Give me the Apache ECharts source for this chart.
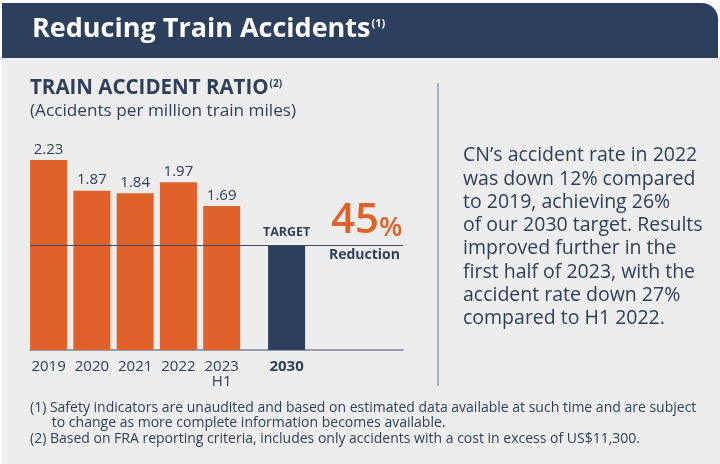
<!DOCTYPE html>
<html>
<head>
<meta charset="utf-8">
<script src="https://cdn.jsdelivr.net/npm/echarts@6/dist/echarts.min.js"></script>
<style>
  html, body { margin: 0; padding: 0; background: #fff; }
  #chart { width: 720px; height: 464px; }
</style>
</head>
<body>
<div id="chart"></div>
<script>
const years = ["2019", "2020", "2021", "2022", "2023\nH1"];
const ratios = [2.23, 1.87, 1.84, 1.97, 1.69];
const targetYear = "2030";
const targetValue = 1.23;
const reductionPct = 45;
const noteLines = [
  "CN’s accident rate in 2022",
  "was down 12% compared",
  "to 2019, achieving 26%",
  "of our 2030 target. Results",
  "improved further in the",
  "first half of 2023, with the",
  "accident rate down 27%",
  "compared to H1 2022."
];
const footnotes = [
  "(1) Safety indicators are unaudited and based on estimated data available at such time and are subject",
  "      to change as more complete information becomes available.",
  "(2) Based on FRA reporting criteria, includes only accidents with a cost in excess of US$11,300."
];

const navy = "#2c405d";
const textNavy = "#2e3f59";
const orange = "#e0622a";
const font = "Open Sans";

// target bar sits half a slot further out than the yearly bars
const targetPos = years.length + 0.5;
const labelPos = years.map((y, i) => i).concat([targetPos]);
const labelText = years.concat([targetYear]);

const chart = echarts.init(document.getElementById("chart"));

const option = {
  animation: false,
  textStyle: { fontFamily: font },
  grid: { left: 30, right: 317, top: 137, bottom: 114 },
  xAxis: {
    type: "value",
    min: -0.43,
    max: 8.19,
    splitLine: { show: false },
    axisTick: { show: false },
    axisLine: { show: true, onZero: false, lineStyle: { color: "#75839a", width: 1.5 } },
    axisLabel: {
      customValues: labelPos,
      margin: 9,
      color: textNavy,
      fontSize: 15,
      lineHeight: 15,
      fontFamily: font,
      formatter: function (v) {
        const i = labelPos.indexOf(v);
        if (i < 0) return "";
        return labelText[i] === targetYear ? "{b|" + targetYear + "}" : labelText[i];
      },
      rich: {
        b: { fontWeight: "bold", fontSize: 15, color: textNavy, fontFamily: font }
      }
    }
  },
  yAxis: {
    type: "value",
    min: 0,
    max: 2.5,
    show: false
  },
  series: [
    {
      type: "bar",
      barWidth: 37,
      barGap: "-100%",
      data: ratios.map((v, i) => [i, v]),
      itemStyle: { color: orange },
      label: {
        show: true,
        position: "top",
        distance: 3,
        color: textNavy,
        fontSize: 15,
        fontFamily: font,
        formatter: p => p.value[1].toFixed(2)
      },
      markLine: {
        silent: true,
        symbol: "none",
        label: { show: false },
        lineStyle: { color: "#3e4c62", width: 1.2, type: "solid" },
        data: [{ yAxis: targetValue }]
      }
    },
    {
      type: "bar",
      barWidth: 37,
      barGap: "-100%",
      data: [[targetPos, targetValue]],
      itemStyle: { color: navy },
      label: {
        show: true,
        position: "top",
        distance: 6,
        color: textNavy,
        fontSize: 12.5,
        fontWeight: "bold",
        fontFamily: font,
        formatter: "TARGET"
      }
    }
  ],
  graphic: [
    { type: "rect", z: -10, shape: { x: 2, y: 58, width: 718, height: 406 }, style: { fill: "#ecedec" } },
    { type: "rect", shape: { x: 2, y: 3, width: 716, height: 55, r: [0, 16, 0, 0] }, style: { fill: navy } },
    {
      type: "text", x: 32, y: 16,
      style: {
        text: "{t|Reducing Train Accidents}{s|(1)}",
        rich: {
          t: { fontSize: 27, fontWeight: "bold", fill: "#fff", fontFamily: font },
          s: { fontSize: 11, fontWeight: "bold", fill: "#fff", fontFamily: font, verticalAlign: "top", padding: [2, 0, 0, 1] }
        }
      }
    },
    {
      type: "text", x: 30, y: 78,
      style: {
        text: "{t|TRAIN ACCIDENT RATIO}{s|(2)}",
        rich: {
          t: { fontSize: 20.5, fontWeight: "bold", fill: textNavy, fontFamily: font },
          s: { fontSize: 10, fontWeight: "bold", fill: textNavy, fontFamily: font, verticalAlign: "top", padding: [1, 0, 0, 1] }
        }
      }
    },
    {
      type: "text", x: 30, y: 103,
      style: { text: "(Accidents per million train miles)", fontSize: 17.2, fill: textNavy, fontFamily: font }
    },
    {
      type: "text", x: 331, y: 200,
      style: {
        text: "{n|" + reductionPct + "}{p|%}",
        rich: {
          n: { fontSize: 42, fill: orange, fontFamily: font, fontWeight: 600 },
          p: { fontSize: 27, fill: orange, fontFamily: font, fontWeight: 600, verticalAlign: "bottom" }
        }
      }
    },
    {
      type: "text", x: 329, y: 248,
      style: { text: "Reduction", fontSize: 14, fontWeight: "bold", fill: textNavy, fontFamily: font }
    },
    { type: "line", shape: { x1: 438, y1: 83, x2: 438, y2: 386 }, style: { stroke: "#8e99ac", lineWidth: 1.5 } },
    {
      type: "text", x: 463, y: 144,
      style: { text: noteLines.join("\n"), fontSize: 19.5, lineHeight: 23.3, fill: textNavy, fontFamily: font }
    },
    {
      type: "text", x: 30, y: 400,
      style: { text: footnotes.join("\n"), fontSize: 14, lineHeight: 15.5, fill: textNavy, fontFamily: font }
    }
  ]
};

chart.setOption(option);
</script>
</body>
</html>
